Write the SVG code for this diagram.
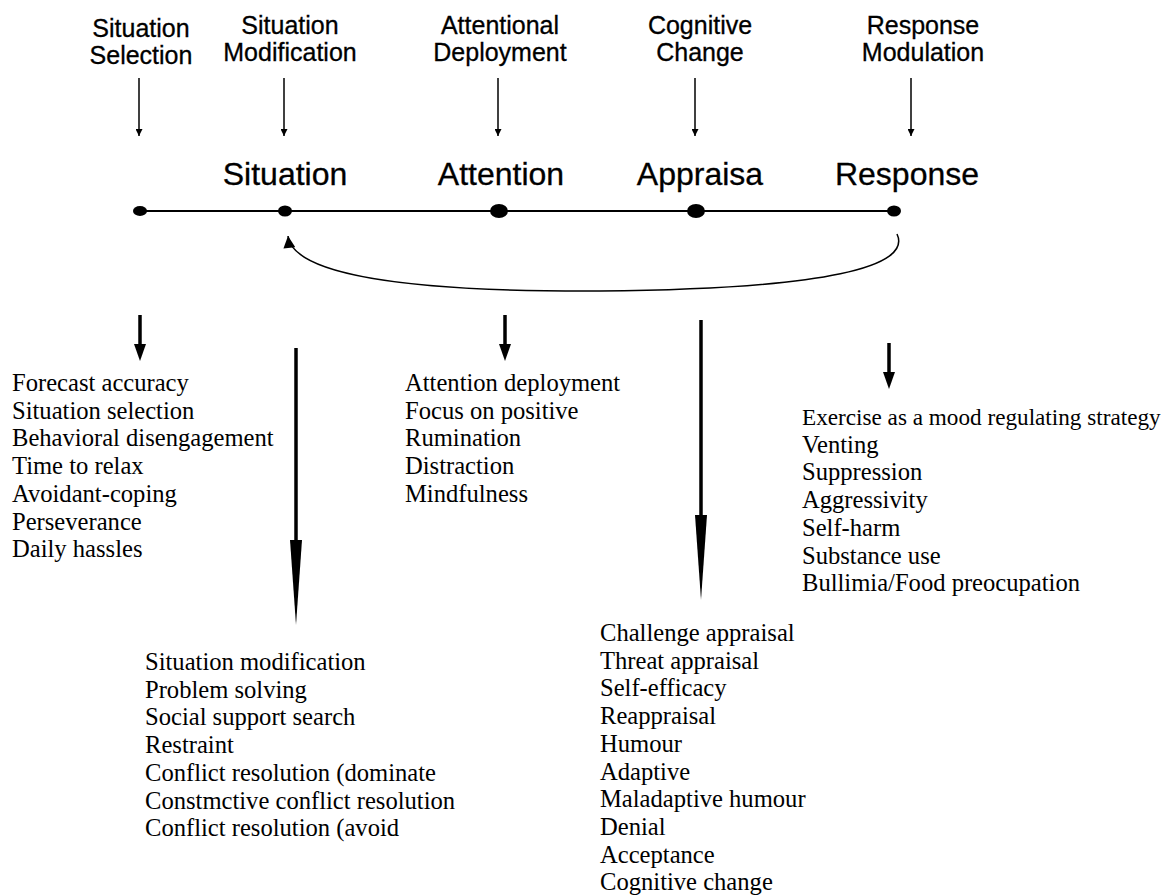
<svg xmlns="http://www.w3.org/2000/svg" width="1176" height="896" viewBox="0 0 1176 896">
<defs>
<style>
.hd{font-family:"Liberation Sans",Arial,sans-serif;font-size:25px;fill:#000;stroke:#000;stroke-width:0.3;text-anchor:middle}
.mn{font-family:"Liberation Sans",Arial,sans-serif;font-size:32px;fill:#000;stroke:#000;stroke-width:0.3;text-anchor:middle}
.ls{font-family:"Liberation Serif","Times New Roman",serif;font-size:24.6px;fill:#000}
.thin{stroke:#000;stroke-width:1.5;fill:none}
.thick{stroke:#000;stroke-width:3.5;fill:none}
.hl{stroke:#000;stroke-width:2;fill:none}
</style>
<marker id="sm" viewBox="0 0 10 10" refX="10" refY="5" markerWidth="7" markerHeight="7" markerUnits="userSpaceOnUse" orient="auto"><path d="M0,0 L10,5 L0,10 Z" fill="#000"/></marker>
<marker id="cv" viewBox="0 0 10 10" refX="10" refY="5" markerWidth="13" markerHeight="12" markerUnits="userSpaceOnUse" orient="auto"><path d="M0,0 L10,5 L0,10 Z" fill="#000"/></marker>
</defs>
<rect width="1176" height="896" fill="#fff"/>

<g id="top-labels">
<g id="lbl-situation-selection"><text class="hd" x="141" y="37">Situation</text><text class="hd" x="141" y="64">Selection</text></g>
<g id="lbl-situation-modification"><text class="hd" x="290" y="34">Situation</text><text class="hd" x="290" y="61">Modification</text></g>
<g id="lbl-attentional-deployment"><text class="hd" x="500" y="34">Attentional</text><text class="hd" x="500" y="61">Deployment</text></g>
<g id="lbl-cognitive-change"><text class="hd" x="700" y="34">Cognitive</text><text class="hd" x="700" y="61">Change</text></g>
<g id="lbl-response-modulation"><text class="hd" x="923" y="34">Response</text><text class="hd" x="923" y="61">Modulation</text></g>
</g>

<g id="stage-labels">
<text id="stage-situation" class="mn" x="285" y="185">Situation</text>
<text id="stage-attention" class="mn" x="501" y="185">Attention</text>
<text id="stage-appraisa" class="mn" x="700" y="185">Appraisa</text>
<text id="stage-response" class="mn" x="907" y="185">Response</text>
</g>

<g id="connectors">
<line class="thin" x1="139" y1="78" x2="139" y2="136" marker-end="url(#sm)"/>
<line class="thin" x1="284" y1="78" x2="284" y2="136" marker-end="url(#sm)"/>
<line class="thin" x1="498" y1="78" x2="498" y2="136" marker-end="url(#sm)"/>
<line class="thin" x1="695" y1="78" x2="695" y2="136" marker-end="url(#sm)"/>
<line class="thin" x1="911" y1="78" x2="911" y2="136" marker-end="url(#sm)"/>

<line class="hl" x1="140" y1="211" x2="893" y2="211"/>

<path class="thin" d="M897,234 C912,266 830,289 600,291 C380,292 292,270 288,236" marker-end="url(#cv)"/>

<g id="arrow-l1"><line class="thick" x1="140" y1="315" x2="140" y2="346"/><path d="M134,344 L146,344 L140,361 Z" fill="#000"/></g>
<g id="arrow-l2"><line class="thick" x1="296" y1="348" x2="296" y2="545"/><path d="M290,540 L302,540 L296,625 Z" fill="#000"/></g>
<g id="arrow-l3"><line class="thick" x1="505" y1="315" x2="505" y2="346"/><path d="M499,344 L511,344 L505,361 Z" fill="#000"/></g>
<g id="arrow-l4"><line class="thick" x1="701" y1="320" x2="701" y2="520"/><path d="M695,515 L707,515 L701,600 Z" fill="#000"/></g>
<g id="arrow-l5"><line class="thick" x1="889" y1="343" x2="889" y2="373"/><path d="M883,372 L895,372 L889,389 Z" fill="#000"/></g>
</g>

<g id="dots">
<ellipse cx="140" cy="211" rx="7" ry="5" fill="#000"/>
<ellipse cx="285" cy="211" rx="7" ry="5.5" fill="#000"/>
<ellipse cx="499" cy="211" rx="9" ry="7" fill="#000"/>
<ellipse cx="696" cy="211" rx="9" ry="7" fill="#000"/>
<ellipse cx="894" cy="211" rx="7" ry="5.5" fill="#000"/>
</g>

<g id="list-situation-selection">
<text class="ls" x="12" y="391">Forecast accuracy</text>
<text class="ls" x="12" y="418.7">Situation selection</text>
<text class="ls" x="12" y="446.4">Behavioral disengagement</text>
<text class="ls" x="12" y="474.1">Time to relax</text>
<text class="ls" x="12" y="501.8">Avoidant-coping</text>
<text class="ls" x="12" y="529.5">Perseverance</text>
<text class="ls" x="12" y="557.2">Daily hassles</text>
</g>

<g id="list-attention">
<text class="ls" x="405" y="391">Attention deployment</text>
<text class="ls" x="405" y="418.7">Focus on positive</text>
<text class="ls" x="405" y="446.4">Rumination</text>
<text class="ls" x="405" y="474.1">Distraction</text>
<text class="ls" x="405" y="501.8">Mindfulness</text>
</g>

<g id="list-response">
<text class="ls" x="802" y="425" style="font-size:23.2px">Exercise as a mood regulating strategy</text>
<text class="ls" x="802" y="452.7">Venting</text>
<text class="ls" x="802" y="480.4">Suppression</text>
<text class="ls" x="802" y="508.1">Aggressivity</text>
<text class="ls" x="802" y="535.8">Self-harm</text>
<text class="ls" x="802" y="563.5">Substance use</text>
<text class="ls" x="802" y="591.2">Bullimia/Food preocupation</text>
</g>

<g id="list-situation-modification">
<text class="ls" x="145" y="670">Situation modification</text>
<text class="ls" x="145" y="697.7">Problem solving</text>
<text class="ls" x="145" y="725.4">Social support search</text>
<text class="ls" x="145" y="753.1">Restraint</text>
<text class="ls" x="145" y="780.8">Conflict resolution (dominate</text>
<text class="ls" x="145" y="808.5">Constmctive conflict resolution</text>
<text class="ls" x="145" y="836.2">Conflict resolution (avoid</text>
</g>

<g id="list-cognitive-change">
<text class="ls" x="600" y="641">Challenge appraisal</text>
<text class="ls" x="600" y="668.7">Threat appraisal</text>
<text class="ls" x="600" y="696.4">Self-efficacy</text>
<text class="ls" x="600" y="724.1">Reappraisal</text>
<text class="ls" x="600" y="751.8">Humour</text>
<text class="ls" x="600" y="779.5">Adaptive</text>
<text class="ls" x="600" y="807.2">Maladaptive humour</text>
<text class="ls" x="600" y="834.9">Denial</text>
<text class="ls" x="600" y="862.6">Acceptance</text>
<text class="ls" x="600" y="890.3">Cognitive change</text>
</g>
</svg>
